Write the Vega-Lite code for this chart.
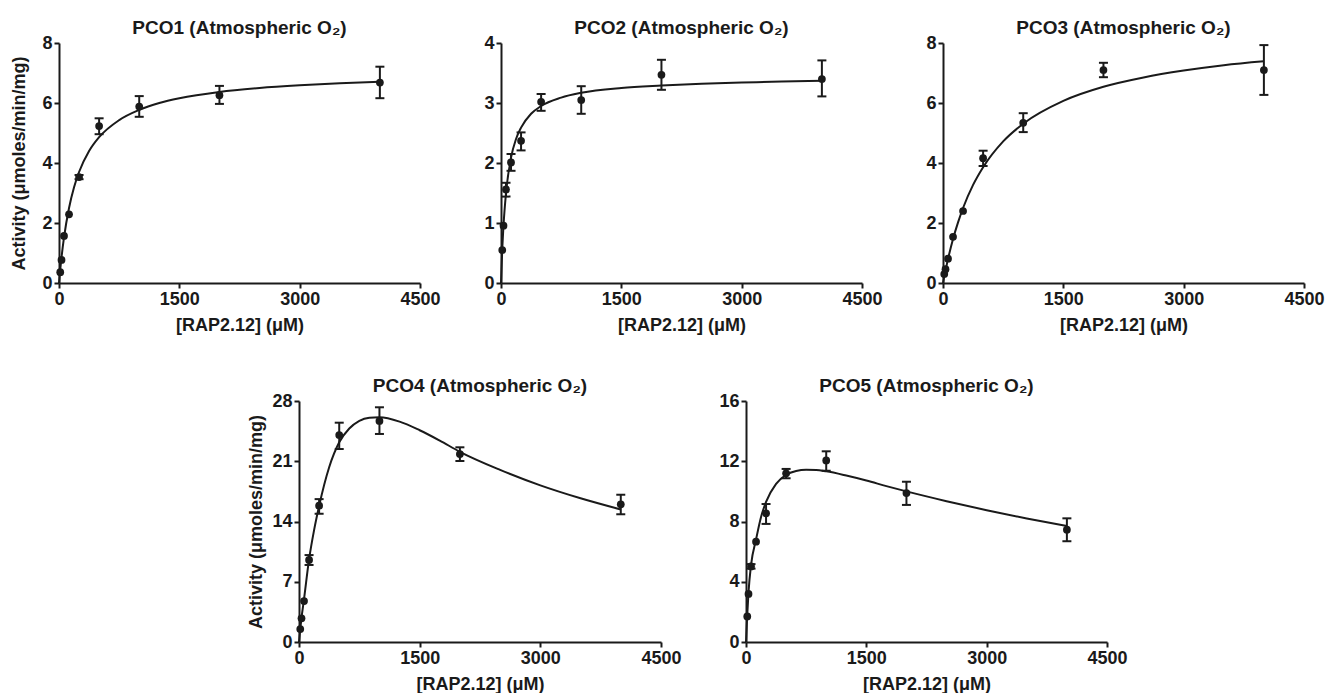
{
"$schema": "https://vega.github.io/schema/vega-lite/v6.json",
"padding": {"left": 10, "top": 19, "right": 12, "bottom": 0},
"background": "white",
"config": {
  "view": {"stroke": null},
  "axis": {"labelFont": "Liberation Sans", "labelFontSize": 18, "labelFontWeight": "bold", "labelColor": "#1a1a1a", "titleFont": "Liberation Sans", "titleFontSize": 18, "titleFontWeight": "bold", "titleColor": "#1a1a1a", "domainColor": "#1a1a1a", "domainWidth": 2, "tickColor": "#1a1a1a", "tickWidth": 2, "tickSize": 5, "grid": false, "labelPadding": 2, "labelOverlap": false, "labelFlush": false, "format": "d"},
  "axisX": {"titlePadding": 8},
  "title": {"font": "Liberation Sans", "fontSize": 19, "fontWeight": "bold", "color": "#1a1a1a", "anchor": "middle", "frame": "group", "offset": -4}
},
"datasets": {
  "pts": [
    {"p": "PCO1", "c": 15.6, "v": 0.36},
    {"p": "PCO1", "c": 31.25, "v": 0.77},
    {"p": "PCO1", "c": 62.5, "v": 1.57},
    {"p": "PCO1", "c": 125, "v": 2.29},
    {"p": "PCO1", "c": 250, "v": 3.53, "lo": 3.46, "hi": 3.6},
    {"p": "PCO1", "c": 500, "v": 5.23, "lo": 4.96, "hi": 5.49},
    {"p": "PCO1", "c": 1000, "v": 5.88, "lo": 5.54, "hi": 6.23},
    {"p": "PCO1", "c": 2000, "v": 6.26, "lo": 5.97, "hi": 6.57},
    {"p": "PCO1", "c": 4000, "v": 6.68, "lo": 6.16, "hi": 7.21},
    {"p": "PCO2", "c": 15.6, "v": 0.55},
    {"p": "PCO2", "c": 31.25, "v": 0.955},
    {"p": "PCO2", "c": 62.5, "v": 1.56, "lo": 1.44, "hi": 1.67},
    {"p": "PCO2", "c": 125, "v": 2.01, "lo": 1.87, "hi": 2.15},
    {"p": "PCO2", "c": 250, "v": 2.37, "lo": 2.21, "hi": 2.51},
    {"p": "PCO2", "c": 500, "v": 3.02, "lo": 2.87, "hi": 3.15},
    {"p": "PCO2", "c": 1000, "v": 3.05, "lo": 2.82, "hi": 3.28},
    {"p": "PCO2", "c": 2000, "v": 3.47, "lo": 3.22, "hi": 3.72},
    {"p": "PCO2", "c": 4000, "v": 3.4, "lo": 3.11, "hi": 3.71},
    {"p": "PCO3", "c": 15.6, "v": 0.3},
    {"p": "PCO3", "c": 31.25, "v": 0.46},
    {"p": "PCO3", "c": 62.5, "v": 0.81},
    {"p": "PCO3", "c": 125, "v": 1.54},
    {"p": "PCO3", "c": 250, "v": 2.4},
    {"p": "PCO3", "c": 500, "v": 4.16, "lo": 3.9, "hi": 4.41},
    {"p": "PCO3", "c": 1000, "v": 5.34, "lo": 5.03, "hi": 5.66},
    {"p": "PCO3", "c": 2000, "v": 7.1, "lo": 6.86, "hi": 7.34},
    {"p": "PCO3", "c": 4000, "v": 7.1, "lo": 6.27, "hi": 7.93},
    {"p": "PCO4", "c": 15.6, "v": 1.51},
    {"p": "PCO4", "c": 31.25, "v": 2.75},
    {"p": "PCO4", "c": 62.5, "v": 4.76},
    {"p": "PCO4", "c": 125, "v": 9.53, "lo": 8.95, "hi": 10.1},
    {"p": "PCO4", "c": 250, "v": 15.84, "lo": 14.9, "hi": 16.6},
    {"p": "PCO4", "c": 500, "v": 24.05, "lo": 22.42, "hi": 25.48},
    {"p": "PCO4", "c": 1000, "v": 25.68, "lo": 24.17, "hi": 27.27},
    {"p": "PCO4", "c": 2000, "v": 21.84, "lo": 21.03, "hi": 22.62},
    {"p": "PCO4", "c": 4000, "v": 16.0, "lo": 14.84, "hi": 17.11},
    {"p": "PCO5", "c": 15.6, "v": 1.7},
    {"p": "PCO5", "c": 31.25, "v": 3.19},
    {"p": "PCO5", "c": 62.5, "v": 5.02, "lo": 4.87, "hi": 5.17},
    {"p": "PCO5", "c": 125, "v": 6.66},
    {"p": "PCO5", "c": 250, "v": 8.54, "lo": 7.84, "hi": 9.16},
    {"p": "PCO5", "c": 500, "v": 11.2, "lo": 10.87, "hi": 11.49},
    {"p": "PCO5", "c": 1000, "v": 12.05, "lo": 11.37, "hi": 12.66},
    {"p": "PCO5", "c": 2000, "v": 9.89, "lo": 9.1, "hi": 10.64},
    {"p": "PCO5", "c": 4000, "v": 7.46, "lo": 6.69, "hi": 8.21}
  ],
  "fit": [
    {"p": "PCO1", "c": 0, "v": 0}, {"p": "PCO1", "c": 15.6, "v": 0.45}, {"p": "PCO1", "c": 31.25, "v": 0.85}, {"p": "PCO1", "c": 62.5, "v": 1.52}, {"p": "PCO1", "c": 125, "v": 2.5}, {"p": "PCO1", "c": 187.5, "v": 3.19}, {"p": "PCO1", "c": 250, "v": 3.7}, {"p": "PCO1", "c": 375, "v": 4.4}, {"p": "PCO1", "c": 500, "v": 4.86}, {"p": "PCO1", "c": 750, "v": 5.43}, {"p": "PCO1", "c": 1000, "v": 5.77}, {"p": "PCO1", "c": 1250, "v": 6.0}, {"p": "PCO1", "c": 1500, "v": 6.16}, {"p": "PCO1", "c": 2000, "v": 6.37}, {"p": "PCO1", "c": 2500, "v": 6.5}, {"p": "PCO1", "c": 3000, "v": 6.59}, {"p": "PCO1", "c": 3500, "v": 6.66}, {"p": "PCO1", "c": 4000, "v": 6.71},
    {"p": "PCO2", "c": 0, "v": 0}, {"p": "PCO2", "c": 15.6, "v": 0.56}, {"p": "PCO2", "c": 31.25, "v": 0.96}, {"p": "PCO2", "c": 62.5, "v": 1.5}, {"p": "PCO2", "c": 125, "v": 2.09}, {"p": "PCO2", "c": 187.5, "v": 2.4}, {"p": "PCO2", "c": 250, "v": 2.59}, {"p": "PCO2", "c": 375, "v": 2.82}, {"p": "PCO2", "c": 500, "v": 2.95}, {"p": "PCO2", "c": 750, "v": 3.09}, {"p": "PCO2", "c": 1000, "v": 3.17}, {"p": "PCO2", "c": 1500, "v": 3.25}, {"p": "PCO2", "c": 2000, "v": 3.29}, {"p": "PCO2", "c": 2500, "v": 3.32}, {"p": "PCO2", "c": 3000, "v": 3.34}, {"p": "PCO2", "c": 3500, "v": 3.36}, {"p": "PCO2", "c": 4000, "v": 3.37},
    {"p": "PCO3", "c": 0, "v": 0}, {"p": "PCO3", "c": 15.6, "v": 0.22}, {"p": "PCO3", "c": 31.25, "v": 0.42}, {"p": "PCO3", "c": 62.5, "v": 0.8}, {"p": "PCO3", "c": 125, "v": 1.47}, {"p": "PCO3", "c": 187.5, "v": 2.02}, {"p": "PCO3", "c": 250, "v": 2.5}, {"p": "PCO3", "c": 375, "v": 3.27}, {"p": "PCO3", "c": 500, "v": 3.86}, {"p": "PCO3", "c": 750, "v": 4.72}, {"p": "PCO3", "c": 1000, "v": 5.31}, {"p": "PCO3", "c": 1500, "v": 6.07}, {"p": "PCO3", "c": 2000, "v": 6.54}, {"p": "PCO3", "c": 2500, "v": 6.85}, {"p": "PCO3", "c": 3000, "v": 7.08}, {"p": "PCO3", "c": 3500, "v": 7.26}, {"p": "PCO3", "c": 4000, "v": 7.39},
    {"p": "PCO4", "c": 0, "v": 0}, {"p": "PCO4", "c": 15.6, "v": 1.5}, {"p": "PCO4", "c": 31.25, "v": 2.8}, {"p": "PCO4", "c": 62.5, "v": 5.0}, {"p": "PCO4", "c": 125, "v": 9.6}, {"p": "PCO4", "c": 187.5, "v": 13.0}, {"p": "PCO4", "c": 250, "v": 15.8}, {"p": "PCO4", "c": 375, "v": 20.3}, {"p": "PCO4", "c": 500, "v": 23.2}, {"p": "PCO4", "c": 625, "v": 24.8}, {"p": "PCO4", "c": 750, "v": 25.7}, {"p": "PCO4", "c": 875, "v": 26.05}, {"p": "PCO4", "c": 1000, "v": 26.1}, {"p": "PCO4", "c": 1250, "v": 25.6}, {"p": "PCO4", "c": 1500, "v": 24.6}, {"p": "PCO4", "c": 1750, "v": 23.4}, {"p": "PCO4", "c": 2000, "v": 22.1}, {"p": "PCO4", "c": 2500, "v": 20.0}, {"p": "PCO4", "c": 3000, "v": 18.2}, {"p": "PCO4", "c": 3500, "v": 16.7}, {"p": "PCO4", "c": 4000, "v": 15.4},
    {"p": "PCO5", "c": 0, "v": 0}, {"p": "PCO5", "c": 15.6, "v": 1.8}, {"p": "PCO5", "c": 31.25, "v": 3.3}, {"p": "PCO5", "c": 62.5, "v": 5.1}, {"p": "PCO5", "c": 125, "v": 6.8}, {"p": "PCO5", "c": 187.5, "v": 8.3}, {"p": "PCO5", "c": 250, "v": 9.3}, {"p": "PCO5", "c": 375, "v": 10.5}, {"p": "PCO5", "c": 500, "v": 11.1}, {"p": "PCO5", "c": 625, "v": 11.35}, {"p": "PCO5", "c": 750, "v": 11.43}, {"p": "PCO5", "c": 875, "v": 11.42}, {"p": "PCO5", "c": 1000, "v": 11.33}, {"p": "PCO5", "c": 1250, "v": 11.05}, {"p": "PCO5", "c": 1500, "v": 10.72}, {"p": "PCO5", "c": 1750, "v": 10.35}, {"p": "PCO5", "c": 2000, "v": 10.0}, {"p": "PCO5", "c": 2500, "v": 9.35}, {"p": "PCO5", "c": 3000, "v": 8.75}, {"p": "PCO5", "c": 3500, "v": 8.2}, {"p": "PCO5", "c": 4000, "v": 7.7}
  ]
},
"spacing": 43,
"vconcat": [
{
"bounds": "flush",
"spacing": 81,
"hconcat": [
{
  "title": "PCO1 (Atmospheric O₂)",
  "width": 361, "height": 240,
  "layer": [
    {"data": {"name": "fit"}, "transform": [{"filter": "datum.p == 'PCO1'"}],
     "mark": {"type": "line", "color": "#1a1a1a", "strokeWidth": 2, "interpolate": "monotone", "opacity": 1},
     "encoding": {
       "x": {"field": "c", "type": "quantitative", "title": "[RAP2.12] (μM)", "scale": {"domain": [0, 4500], "nice": false}, "axis": {"values": [0, 1500, 3000, 4500], "format": "d"}},
       "y": {"field": "v", "type": "quantitative", "title": "Activity (μmoles/min/mg)", "scale": {"domain": [0, 8], "nice": false}, "axis": {"values": [0, 2, 4, 6, 8], "format": "d", "titlePadding": 13}}}},
    {"data": {"name": "pts"}, "transform": [{"filter": "datum.p == 'PCO1' && datum.lo != null"}],
     "mark": {"type": "rule", "color": "#1a1a1a", "strokeWidth": 2, "opacity": 1},
     "encoding": {"x": {"field": "c", "type": "quantitative", "title": "[RAP2.12] (μM)"}, "y": {"field": "lo", "type": "quantitative", "title": "Activity (μmoles/min/mg)"}, "y2": {"field": "hi"}}},
    {"data": {"name": "pts"}, "transform": [{"filter": "datum.p == 'PCO1' && datum.lo != null"}],
     "mark": {"type": "tick", "orient": "horizontal", "color": "#1a1a1a", "size": 9, "thickness": 2, "opacity": 1},
     "encoding": {"x": {"field": "c", "type": "quantitative", "title": "[RAP2.12] (μM)"}, "y": {"field": "lo", "type": "quantitative", "title": "Activity (μmoles/min/mg)"}}},
    {"data": {"name": "pts"}, "transform": [{"filter": "datum.p == 'PCO1' && datum.lo != null"}],
     "mark": {"type": "tick", "orient": "horizontal", "color": "#1a1a1a", "size": 9, "thickness": 2, "opacity": 1},
     "encoding": {"x": {"field": "c", "type": "quantitative", "title": "[RAP2.12] (μM)"}, "y": {"field": "hi", "type": "quantitative", "title": "Activity (μmoles/min/mg)"}}},
    {"data": {"name": "pts"}, "transform": [{"filter": "datum.p == 'PCO1'"}],
     "mark": {"type": "circle", "color": "#1a1a1a", "size": 60, "opacity": 1},
     "encoding": {"x": {"field": "c", "type": "quantitative", "title": "[RAP2.12] (μM)"}, "y": {"field": "v", "type": "quantitative", "title": "Activity (μmoles/min/mg)"}}}
  ]
},
{
  "title": "PCO2 (Atmospheric O₂)",
  "width": 361, "height": 240,
  "layer": [
    {"data": {"name": "fit"}, "transform": [{"filter": "datum.p == 'PCO2'"}],
     "mark": {"type": "line", "color": "#1a1a1a", "strokeWidth": 2, "interpolate": "monotone", "opacity": 1},
     "encoding": {
       "x": {"field": "c", "type": "quantitative", "title": "[RAP2.12] (μM)", "scale": {"domain": [0, 4500], "nice": false}, "axis": {"values": [0, 1500, 3000, 4500], "format": "d"}},
       "y": {"field": "v", "type": "quantitative", "title": null, "scale": {"domain": [0, 4], "nice": false}, "axis": {"values": [0, 1, 2, 3, 4], "format": "d"}}}},
    {"data": {"name": "pts"}, "transform": [{"filter": "datum.p == 'PCO2' && datum.lo != null"}],
     "mark": {"type": "rule", "color": "#1a1a1a", "strokeWidth": 2, "opacity": 1},
     "encoding": {"x": {"field": "c", "type": "quantitative", "title": "[RAP2.12] (μM)"}, "y": {"field": "lo", "type": "quantitative", "title": null}, "y2": {"field": "hi"}}},
    {"data": {"name": "pts"}, "transform": [{"filter": "datum.p == 'PCO2' && datum.lo != null"}],
     "mark": {"type": "tick", "orient": "horizontal", "color": "#1a1a1a", "size": 9, "thickness": 2, "opacity": 1},
     "encoding": {"x": {"field": "c", "type": "quantitative", "title": "[RAP2.12] (μM)"}, "y": {"field": "lo", "type": "quantitative", "title": null}}},
    {"data": {"name": "pts"}, "transform": [{"filter": "datum.p == 'PCO2' && datum.lo != null"}],
     "mark": {"type": "tick", "orient": "horizontal", "color": "#1a1a1a", "size": 9, "thickness": 2, "opacity": 1},
     "encoding": {"x": {"field": "c", "type": "quantitative", "title": "[RAP2.12] (μM)"}, "y": {"field": "hi", "type": "quantitative", "title": null}}},
    {"data": {"name": "pts"}, "transform": [{"filter": "datum.p == 'PCO2'"}],
     "mark": {"type": "circle", "color": "#1a1a1a", "size": 60, "opacity": 1},
     "encoding": {"x": {"field": "c", "type": "quantitative", "title": "[RAP2.12] (μM)"}, "y": {"field": "v", "type": "quantitative", "title": null}}}
  ]
},
{
  "title": "PCO3 (Atmospheric O₂)",
  "width": 361, "height": 240,
  "layer": [
    {"data": {"name": "fit"}, "transform": [{"filter": "datum.p == 'PCO3'"}],
     "mark": {"type": "line", "color": "#1a1a1a", "strokeWidth": 2, "interpolate": "monotone", "opacity": 1},
     "encoding": {
       "x": {"field": "c", "type": "quantitative", "title": "[RAP2.12] (μM)", "scale": {"domain": [0, 4500], "nice": false}, "axis": {"values": [0, 1500, 3000, 4500], "format": "d"}},
       "y": {"field": "v", "type": "quantitative", "title": null, "scale": {"domain": [0, 8], "nice": false}, "axis": {"values": [0, 2, 4, 6, 8], "format": "d"}}}},
    {"data": {"name": "pts"}, "transform": [{"filter": "datum.p == 'PCO3' && datum.lo != null"}],
     "mark": {"type": "rule", "color": "#1a1a1a", "strokeWidth": 2, "opacity": 1},
     "encoding": {"x": {"field": "c", "type": "quantitative", "title": "[RAP2.12] (μM)"}, "y": {"field": "lo", "type": "quantitative", "title": null}, "y2": {"field": "hi"}}},
    {"data": {"name": "pts"}, "transform": [{"filter": "datum.p == 'PCO3' && datum.lo != null"}],
     "mark": {"type": "tick", "orient": "horizontal", "color": "#1a1a1a", "size": 9, "thickness": 2, "opacity": 1},
     "encoding": {"x": {"field": "c", "type": "quantitative", "title": "[RAP2.12] (μM)"}, "y": {"field": "lo", "type": "quantitative", "title": null}}},
    {"data": {"name": "pts"}, "transform": [{"filter": "datum.p == 'PCO3' && datum.lo != null"}],
     "mark": {"type": "tick", "orient": "horizontal", "color": "#1a1a1a", "size": 9, "thickness": 2, "opacity": 1},
     "encoding": {"x": {"field": "c", "type": "quantitative", "title": "[RAP2.12] (μM)"}, "y": {"field": "hi", "type": "quantitative", "title": null}}},
    {"data": {"name": "pts"}, "transform": [{"filter": "datum.p == 'PCO3'"}],
     "mark": {"type": "circle", "color": "#1a1a1a", "size": 60, "opacity": 1},
     "encoding": {"x": {"field": "c", "type": "quantitative", "title": "[RAP2.12] (μM)"}, "y": {"field": "v", "type": "quantitative", "title": null}}}
  ]
}
]
},
{
"bounds": "flush",
"spacing": 85,
"hconcat": [
{
  "width": 155, "height": 241,
  "data": {"values": [{}]},
  "mark": {"type": "point", "opacity": 0},
  "encoding": {}
},
{
  "title": "PCO4 (Atmospheric O₂)",
  "width": 362, "height": 241,
  "layer": [
    {"data": {"name": "fit"}, "transform": [{"filter": "datum.p == 'PCO4'"}],
     "mark": {"type": "line", "color": "#1a1a1a", "strokeWidth": 2, "interpolate": "monotone", "opacity": 1},
     "encoding": {
       "x": {"field": "c", "type": "quantitative", "title": "[RAP2.12] (μM)", "scale": {"domain": [0, 4500], "nice": false}, "axis": {"values": [0, 1500, 3000, 4500], "format": "d"}},
       "y": {"field": "v", "type": "quantitative", "title": "Activity (μmoles/min/mg)", "scale": {"domain": [0, 28], "nice": false}, "axis": {"values": [0, 7, 14, 21, 28], "format": "d", "titlePadding": 6}}}},
    {"data": {"name": "pts"}, "transform": [{"filter": "datum.p == 'PCO4' && datum.lo != null"}],
     "mark": {"type": "rule", "color": "#1a1a1a", "strokeWidth": 2, "opacity": 1},
     "encoding": {"x": {"field": "c", "type": "quantitative", "title": "[RAP2.12] (μM)"}, "y": {"field": "lo", "type": "quantitative", "title": "Activity (μmoles/min/mg)"}, "y2": {"field": "hi"}}},
    {"data": {"name": "pts"}, "transform": [{"filter": "datum.p == 'PCO4' && datum.lo != null"}],
     "mark": {"type": "tick", "orient": "horizontal", "color": "#1a1a1a", "size": 9, "thickness": 2, "opacity": 1},
     "encoding": {"x": {"field": "c", "type": "quantitative", "title": "[RAP2.12] (μM)"}, "y": {"field": "lo", "type": "quantitative", "title": "Activity (μmoles/min/mg)"}}},
    {"data": {"name": "pts"}, "transform": [{"filter": "datum.p == 'PCO4' && datum.lo != null"}],
     "mark": {"type": "tick", "orient": "horizontal", "color": "#1a1a1a", "size": 9, "thickness": 2, "opacity": 1},
     "encoding": {"x": {"field": "c", "type": "quantitative", "title": "[RAP2.12] (μM)"}, "y": {"field": "hi", "type": "quantitative", "title": "Activity (μmoles/min/mg)"}}},
    {"data": {"name": "pts"}, "transform": [{"filter": "datum.p == 'PCO4'"}],
     "mark": {"type": "circle", "color": "#1a1a1a", "size": 60, "opacity": 1},
     "encoding": {"x": {"field": "c", "type": "quantitative", "title": "[RAP2.12] (μM)"}, "y": {"field": "v", "type": "quantitative", "title": "Activity (μmoles/min/mg)"}}}
  ]
},
{
  "title": "PCO5 (Atmospheric O₂)",
  "width": 361, "height": 241,
  "layer": [
    {"data": {"name": "fit"}, "transform": [{"filter": "datum.p == 'PCO5'"}],
     "mark": {"type": "line", "color": "#1a1a1a", "strokeWidth": 2, "interpolate": "monotone", "opacity": 1},
     "encoding": {
       "x": {"field": "c", "type": "quantitative", "title": "[RAP2.12] (μM)", "scale": {"domain": [0, 4500], "nice": false}, "axis": {"values": [0, 1500, 3000, 4500], "format": "d"}},
       "y": {"field": "v", "type": "quantitative", "title": null, "scale": {"domain": [0, 16], "nice": false}, "axis": {"values": [0, 4, 8, 12, 16], "format": "d"}}}},
    {"data": {"name": "pts"}, "transform": [{"filter": "datum.p == 'PCO5' && datum.lo != null"}],
     "mark": {"type": "rule", "color": "#1a1a1a", "strokeWidth": 2, "opacity": 1},
     "encoding": {"x": {"field": "c", "type": "quantitative", "title": "[RAP2.12] (μM)"}, "y": {"field": "lo", "type": "quantitative", "title": null}, "y2": {"field": "hi"}}},
    {"data": {"name": "pts"}, "transform": [{"filter": "datum.p == 'PCO5' && datum.lo != null"}],
     "mark": {"type": "tick", "orient": "horizontal", "color": "#1a1a1a", "size": 9, "thickness": 2, "opacity": 1},
     "encoding": {"x": {"field": "c", "type": "quantitative", "title": "[RAP2.12] (μM)"}, "y": {"field": "lo", "type": "quantitative", "title": null}}},
    {"data": {"name": "pts"}, "transform": [{"filter": "datum.p == 'PCO5' && datum.lo != null"}],
     "mark": {"type": "tick", "orient": "horizontal", "color": "#1a1a1a", "size": 9, "thickness": 2, "opacity": 1},
     "encoding": {"x": {"field": "c", "type": "quantitative", "title": "[RAP2.12] (μM)"}, "y": {"field": "hi", "type": "quantitative", "title": null}}},
    {"data": {"name": "pts"}, "transform": [{"filter": "datum.p == 'PCO5'"}],
     "mark": {"type": "circle", "color": "#1a1a1a", "size": 60, "opacity": 1},
     "encoding": {"x": {"field": "c", "type": "quantitative", "title": "[RAP2.12] (μM)"}, "y": {"field": "v", "type": "quantitative", "title": null}}}
  ]
}
]
}
]
}
